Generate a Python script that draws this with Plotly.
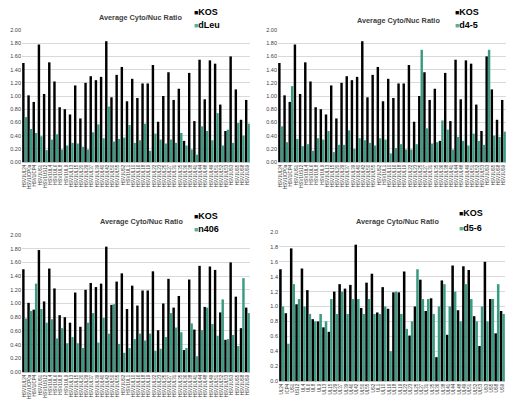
import plotly.graph_objects as go

labels = ["HSV1UL24", "HSV1ICP0a", "HSV1ICP4", "HSV1US1", "HSV1US12", "HSV1UL4", "HSV1UL6", "HSV1UL8",
          "HSV1UL9", "HSV1UL13", "HSV1UL15", "HSV1UL20", "HSV1UL29", "HSV1UL37", "HSV1UL39", "HSV1UL40",
          "HSV1UL42", "HSV1UL50", "HSV1UL55", "HSV1US2", "HSV1UL1", "HSV1UL10", "HSV1UL16", "HSV1UL18",
          "HSV1UL19", "HSV1UL22", "HSV1UL23", "HSV1UL25", "HSV1UL27", "HSV1UL31", "HSV1UL35", "HSV1UL36",
          "HSV1UL38", "HSV1UL41", "HSV1UL44", "HSV1UL48", "HSV1UL49", "HSV1UL51", "HSV1UL52", "HSV1UL53",
          "HSV1US3", "HSV1US5", "HSV1US8", "HSV1US9"]

kos = [1.50, 1.01, 0.91, 1.78, 1.03, 1.51, 1.22, 0.83, 0.80, 0.72, 1.16, 0.66, 1.20, 1.30, 1.24, 1.29,
       1.83, 0.98, 1.32, 1.44, 0.92, 1.26, 0.97, 1.19, 1.19, 1.47, 0.61, 1.00, 1.36, 0.94, 1.11, 0.32,
       1.35, 0.62, 1.55, 0.95, 1.54, 1.49, 0.87, 0.47, 1.60, 1.10, 0.64, 0.94]

dleu = [0.68, 0.50, 0.44, 0.39, 0.18, 0.34, 0.42, 0.19, 0.25, 0.29, 0.28, 0.23, 0.19, 0.45, 0.57, 0.36,
        0.84, 0.31, 0.35, 0.37, 0.56, 0.29, 0.33, 0.58, 0.17, 0.43, 0.34, 0.28, 0.34, 0.29, 0.44, 0.25,
        0.19, 0.11, 0.54, 0.47, 0.33, 0.74, 0.25, 0.49, 0.29, 0.59, 0.40, 0.58]

d45 = [0.54, 0.30, 1.15, 0.35, 0.24, 0.27, 0.17, 0.36, 0.34, 0.47, 0.15, 0.26, 0.26, 0.48, 0.20, 0.36,
       0.33, 0.29, 0.25, 0.36, 0.34, 0.13, 0.21, 0.27, 0.19, 0.19, 0.27, 1.70, 0.51, 0.28, 0.30, 0.63,
       0.49, 0.19, 0.38, 0.32, 0.25, 0.43, 0.32, 0.26, 1.70, 0.40, 0.38, 0.46]

n406 = [0.78, 0.89, 1.29, 0.92, 0.72, 0.77, 0.49, 0.64, 0.42, 0.51, 0.42, 0.35, 0.72, 0.86, 0.43, 0.79,
        0.56, 0.99, 0.41, 0.28, 0.35, 0.48, 0.56, 0.46, 0.56, 0.31, 0.34, 0.51, 0.86, 0.65, 0.58, 0.35,
        0.71, 0.23, 0.61, 0.94, 0.70, 0.53, 1.06, 0.48, 0.54, 0.38, 1.37, 0.86]

labels4 = ["UL24", "ICP4", "US1", "US12", "UL4", "UL6", "UL8", "UL9", "UL13", "UL15", "UL29", "UL37",
           "UL39", "UL40", "UL42", "UL50", "UL55", "US2", "UL1", "UL10", "UL16", "UL18", "UL19", "UL22",
           "UL23", "UL25", "UL27", "UL31", "UL35", "UL36", "UL38", "UL41", "UL44", "UL48", "UL49", "UL51",
           "UL52", "UL53", "US3", "US5", "US8", "US9"]

kos4 = [1.50, 0.91, 1.78, 1.03, 1.51, 1.22, 0.83, 0.80, 0.72, 0.66, 1.20, 1.30, 1.24, 1.29, 1.83, 0.98,
        1.32, 1.44, 0.92, 1.26, 0.97, 1.19, 1.19, 1.47, 0.61, 1.00, 1.36, 0.94, 1.11, 0.32, 1.35, 0.62,
        1.55, 0.95, 1.54, 1.49, 0.87, 0.47, 1.60, 1.10, 0.64, 0.94]

d56 = [1.00, 0.50, 1.30, 1.10, 1.00, 0.90, 0.80, 0.90, 0.80, 1.10, 0.90, 1.20, 0.90, 1.10, 1.10, 0.90,
       1.10, 0.90, 0.90, 1.00, 0.40, 1.20, 0.90, 0.70, 0.80, 1.50, 1.10, 1.10, 0.90, 1.00, 1.30, 1.00,
       1.20, 0.80, 1.30, 1.10, 0.80, 1.00, 0.80, 1.10, 1.30, 0.90]

BLACK = "#000000"
TEAL = "#3a9a82"
TEAL_LEG = "#4fb39a"
FONT = "Liberation Sans, Arial, sans-serif"
W, H = 513, 408

panels = [
    # xlabels, kos, mutant, name, x-domain px, y-domain px (top,bottom), tickformat,
    # white legend box px (x0,x1,y0,y1), title centre px (x,y), legend px (x, y1, y2)
    (labels, kos, dleu, "dLeu", (22, 250), (30, 162), ".2f", (190, 228, 2, 33), (140, 18), (192, 12, 25)),
    (labels, kos, d45, "d4-5", (278, 506), (30, 162), ".2f", (449, 484, 2, 33), (398, 20), (453, 12, 25)),
    (labels, kos, n406, "n406", (22, 250), (235, 372), ".2f", (192, 230, 207, 238), (141, 222), (192, 216, 229)),
    (labels4, kos4, d56, "d5-6", (279, 505), (232, 381), ".1f", (455, 492, 204, 231), (397, 222), (457, 213, 228)),
]

fig = go.Figure()
shapes = []
annotations = []

for i, (xl, k, m, name, xd, yd, tf, lb, tt, lg) in enumerate(panels):
    n = "" if i == 0 else str(i + 1)
    xa, ya = "x" + n, "y" + n
    fig.add_trace(go.Bar(x=xl, y=k, name="KOS", marker=dict(color=BLACK, line=dict(width=0)),
                         xaxis=xa, yaxis=ya, showlegend=False))
    fig.add_trace(go.Bar(x=xl, y=m, name=name, marker=dict(color=TEAL, line=dict(width=0)),
                         xaxis=xa, yaxis=ya, showlegend=False))
    fig.update_layout(**{
        "xaxis" + n: dict(domain=[xd[0] / W, xd[1] / W], anchor=ya, tickangle=-90,
                          tickfont=dict(size=4.5, family=FONT, color="#404040"),
                          showline=True, linecolor="#bfbfbf", linewidth=1, ticks="",
                          showgrid=False, type="category", automargin=False),
        "yaxis" + n: dict(domain=[1 - yd[1] / H, 1 - yd[0] / H], anchor=xa, range=[0, 2.0],
                          dtick=0.2, tickformat=tf, showgrid=True, gridcolor="#d9d9d9", gridwidth=1,
                          zeroline=False, tickfont=dict(size=5.5, family=FONT, color="#404040"),
                          ticks="", showline=False, automargin=False),
    })
    shapes.append(dict(type="rect", xref="paper", yref="paper", x0=lb[0] / W, x1=lb[1] / W,
                       y0=1 - lb[3] / H, y1=1 - lb[2] / H, fillcolor="white", line=dict(width=0),
                       layer="above"))
    annotations.append(dict(xref="paper", yref="paper", x=tt[0] / W, y=1 - tt[1] / H,
                            text="<b>Average Cyto/Nuc Ratio</b>", showarrow=False,
                            font=dict(size=7.3, family=FONT, color="#404040"),
                            xanchor="center", yanchor="middle"))
    annotations.append(dict(xref="paper", yref="paper", x=lg[0] / W, y=1 - lg[1] / H,
                            text="<span style='color:%s;font-size:7px'>■</span><b>KOS</b>" % BLACK,
                            showarrow=False, font=dict(size=9, family=FONT, color="black"),
                            xanchor="left", yanchor="middle"))
    annotations.append(dict(xref="paper", yref="paper", x=lg[0] / W, y=1 - lg[2] / H,
                            text="<span style='color:%s;font-size:7px'>■</span><b>%s</b>" % (TEAL_LEG, name),
                            showarrow=False, font=dict(size=9, family=FONT, color="black"),
                            xanchor="left", yanchor="middle"))

fig.update_layout(width=W, height=H, margin=dict(l=0, r=0, t=0, b=0), barmode="group",
                  bargap=0.06, bargroupgap=0, plot_bgcolor="white", paper_bgcolor="white",
                  shapes=shapes, annotations=annotations, showlegend=False,
                  font=dict(family=FONT))

fig.write_html("out.html", config={"displayModeBar": False},
               post_script="document.body.style.margin='0';document.body.style.overflow='hidden';")
